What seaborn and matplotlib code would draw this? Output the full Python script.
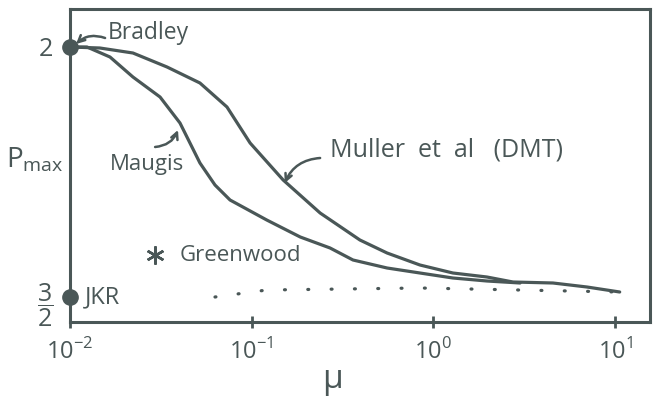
import matplotlib
matplotlib.use("Agg")
import matplotlib.pyplot as plt
import seaborn as sns
import pandas as pd

# ---- data ----
muller_mu = [0.01, 0.0146, 0.0222, 0.0342, 0.0519, 0.0731, 0.098, 0.149, 0.238,
             0.394, 0.556, 0.843, 1.28, 1.97, 2.74, 4.55, 7.0, 10.6]
muller_p = [2.0, 1.998, 1.988, 1.96, 1.928, 1.88, 1.808, 1.734, 1.668,
            1.614, 1.588, 1.564, 1.548, 1.54, 1.53, 1.528, 1.52, 1.51]

maugis_mu = [0.01, 0.0124, 0.0166, 0.0222, 0.0313, 0.0403, 0.0519, 0.0628, 0.076,
             0.121, 0.185, 0.27, 0.361, 0.556, 0.843, 1.28, 1.97, 3.0]
maugis_p = [2.0, 2.0, 1.98, 1.94, 1.90, 1.848, 1.768, 1.724, 1.694,
            1.654, 1.62, 1.598, 1.574, 1.558, 1.548, 1.538, 1.532, 1.528]

jkr_line_mu = [0.0628, 0.121, 0.843, 10.6]
jkr_line_p = [1.50, 1.514, 1.518, 1.51]

endpoints_mu = [0.01, 0.01]
endpoints_p = [2.0, 1.5]

greenwood_mu = [0.0294]
greenwood_p = [1.584]

xtick_vals = [0.01, 0.1, 1, 10]
xtick_labels = [r"10$^{-2}$", r"10$^{-1}$", r"10$^{0}$", r"10$^{1}$"]
ytick_vals = [1.5, 2.0]
ytick_labels = [r"$\dfrac{3}{2}$", "2"]

INK = "#4a5757"

sns.set_theme(style="white")
plt.rcParams["font.family"] = ["Open Sans", "DejaVu Sans"]
plt.rcParams["mathtext.fontset"] = "custom"
plt.rcParams["mathtext.rm"] = "Open Sans"

fig = plt.figure(figsize=(6.53, 4.08), dpi=100)
ax = fig.add_axes([70 / 653, 86 / 408, 580 / 653, 313 / 408])

df_muller = pd.DataFrame({"mu": muller_mu, "P": muller_p})
df_maugis = pd.DataFrame({"mu": maugis_mu, "P": maugis_p})

sns.lineplot(data=df_muller, x="mu", y="P", ax=ax, color=INK, lw=2.3,
             solid_capstyle="round", estimator=None)
sns.lineplot(data=df_maugis, x="mu", y="P", ax=ax, color=INK, lw=2.3,
             solid_capstyle="round", estimator=None)
l, = ax.plot(jkr_line_mu, jkr_line_p, color=INK, lw=2.3)
l.set_dashes([0.3, 7])
l.set_dash_capstyle("round")

ax.plot(endpoints_mu, endpoints_p, "o", color=INK, ms=11, clip_on=False, zorder=5)
ax.plot(greenwood_mu, greenwood_p, marker=(6, 2, 0), color=INK, ms=13, mew=1.8,
        ls="none")

ax.set_xscale("log")
ax.set_xlim(0.01, 10 ** (-2 + 580 / 181.7))
ax.set_ylim(1.5 - 25 / 500, 2.0 + 38 / 500)

ax.set_xticks(xtick_vals)
ax.set_xticklabels(xtick_labels, fontsize=17, color=INK)
ax.minorticks_off()
ax.set_yticks(ytick_vals)
ax.set_yticklabels(ytick_labels, fontsize=18, color=INK)
ax.tick_params(axis="x", direction="inout", length=9, width=2, color=INK, pad=8,
               bottom=True)
ax.tick_params(axis="y", length=0, pad=12)

for s in ax.spines.values():
    s.set_color(INK)
    s.set_linewidth(2.2)

ax.set_xlabel("μ", fontsize=24, color=INK, va="center")
ax.xaxis.set_label_coords(0.453, -0.185)
ax.set_ylabel(r"P$_{\mathrm{max}}$", fontsize=20, color=INK, rotation=0,
              va="center", ha="center")
ax.yaxis.set_label_coords(-0.06, 0.518)

ax.text(0.0162, 2.028, "Bradley", fontsize=16.5, color=INK, va="center", ha="left")
ax.text(0.0265, 1.764, "Maugis", fontsize=16, color=INK, va="center", ha="center")
ax.text(0.27, 1.794, "Muller  et  al   (DMT)", fontsize=18, color=INK, va="center",
        ha="left")
ax.text(0.0403, 1.582, "Greenwood", fontsize=16, color=INK, va="center", ha="left")
ax.text(0.0121, 1.5, "JKR", fontsize=17, color=INK, va="center", ha="left")

arrow = dict(arrowstyle="->", color=INK, lw=1.8, shrinkA=0, shrinkB=0,
             connectionstyle="arc3,rad=0.3")
ax.annotate("", xy=(0.0108, 2.006), xytext=(0.0156, 2.018), arrowprops=arrow)
ax.annotate("", xy=(0.0393, 1.834), xytext=(0.0294, 1.80), arrowprops=arrow)
ax.annotate("", xy=(0.152, 1.728), xytext=(0.238, 1.778), arrowprops=arrow)

fig.savefig("out.png", dpi=100, facecolor="white")
